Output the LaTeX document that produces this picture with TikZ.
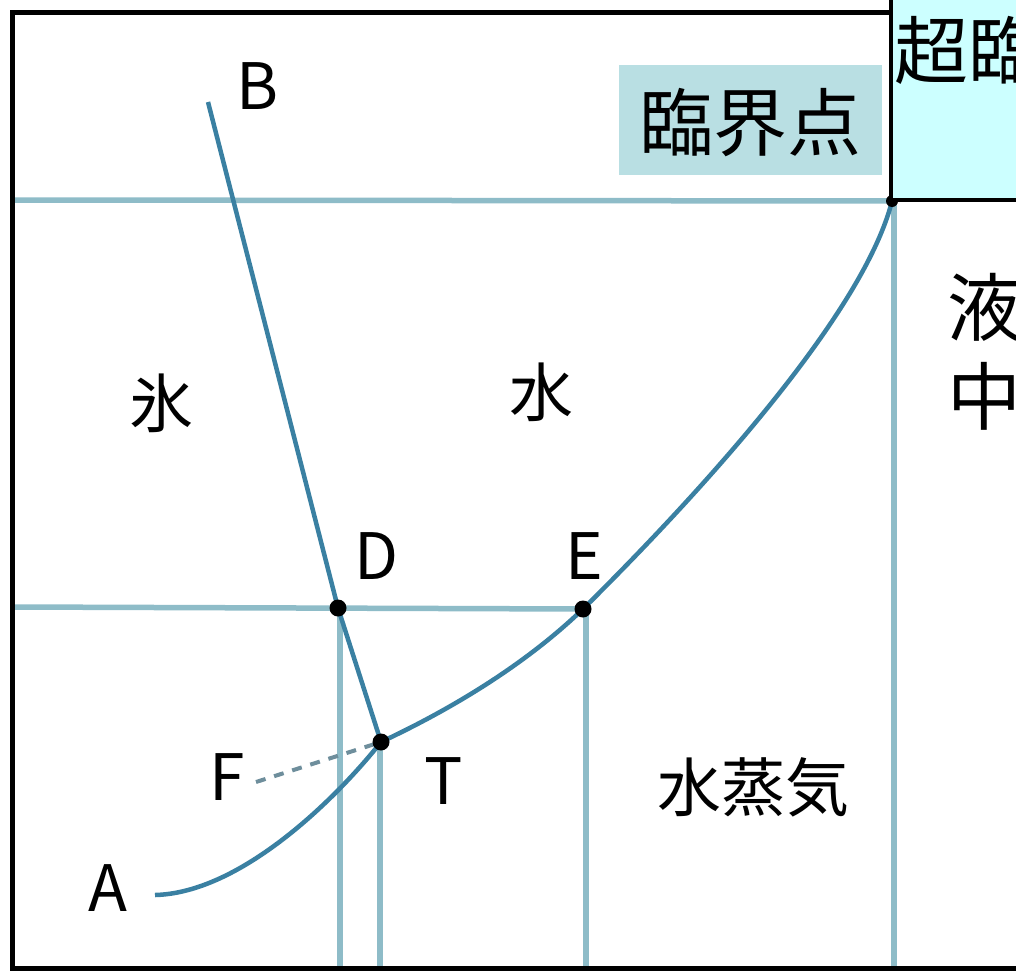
\documentclass[tikz,border=0pt]{standalone}
\usepackage{fontspec}
\setmainfont{Noto Sans CJK JP}
\definecolor{curvecol}{RGB}{58,128,162}
\definecolor{gridcol}{RGB}{142,188,200}
\definecolor{dashcol}{RGB}{110,142,156}
\definecolor{labelbox}{RGB}{185,223,227}
\definecolor{superbox}{RGB}{204,255,255}
\tikzset{
  gridline/.style={draw=gridcol,line width=5.5pt},
  phase/.style={draw=curvecol,line width=4.5pt},
  pt/.style={circle,fill=black,inner sep=0pt,minimum size=17pt},
  lbl/.style={inner sep=0pt,font=\fontsize{64}{70}\selectfont},
  big/.style={inner sep=0pt,font=\fontsize{74}{80}\selectfont},
}
\begin{document}
\begin{tikzpicture}[x=1pt,y=-1pt]
\useasboundingbox (0,0) rectangle (1016,971);
\clip (0,0) rectangle (1016,971);
\fill[white] (0,0) rectangle (1016,971);
% key points
\coordinate (Bend) at (208,102);
\coordinate (Aend) at (155,895);
\coordinate (Dp) at (338,608);
\coordinate (Ep) at (583,609);
\coordinate (Tp) at (381,742);
\coordinate (Cp) at (892,201);
\coordinate (Fend) at (256,782);
\coordinate (L1) at (14,200);
\coordinate (L2) at (14,607);
\coordinate (DB) at (340,971);
\coordinate (TB) at (380,971);
\coordinate (EB) at (586,971);
\coordinate (CB) at (894,971);
% grid lines
\draw[gridline] (L1) -- (Cp);
\draw[gridline] (L2) -- (Ep);
\draw[gridline] (340,608) -- (DB);
\draw[gridline] (380,742) -- (TB);
\draw[gridline] (586,609) -- (EB);
\draw[gridline] (894,201) -- (CB);
% frame
\draw[line width=5pt,black] (1100,13) -- (12,13) -- (12,968) -- (1100,968);
% phase boundaries
\draw[phase] (Bend) -- (Dp) -- (Tp);
\draw[phase] (Aend) .. controls (240,893) and (335,800) .. (Tp);
\draw[phase] (Tp) .. controls (460,705) and (530,660) .. (Ep)
  .. controls (683,510) and (862,320) .. (Cp);
\draw[draw=dashcol,line width=4pt,dash pattern=on 10pt off 9pt] (Fend) -- (Tp);
% points
\node[pt] (D) at (Dp) {};
\node[pt] (E) at (Ep) {};
\node[pt] (T) at (Tp) {};
\node[pt,minimum size=12pt] (C) at (Cp) {};
% labels
\node[lbl] (lB) at (258,86) {B};
\node[lbl] (lD) at (377,556) {D};
\node[lbl] (lE) at (584,556) {E};
\node[lbl] (lT) at (444,781) {T};
\node[lbl] (lF) at (227,777) {F};
\node[lbl] (lA) at (108,888) {A};
\node[lbl] (ice) at (161,403) {氷};
\node[lbl] (water) at (541,392) {水};
\node[lbl] (vapor) at (753,787) {水蒸気};
% critical point label
\node[fill=labelbox,minimum width=263pt,minimum height=110pt,inner sep=0pt] (cbox) at (750.5,120) {};
\node[big] (crit) at (750,123) {臨界点};
% supercritical box
\draw[fill=superbox,draw=black,line width=4pt] (891,-10) rectangle (1100,200);
\node[big,anchor=west] (super) at (894,50) {超臨};
% right side text
\node[big,anchor=west] (liq) at (947,307) {液};
\node[big,anchor=west] (mid) at (947,396) {中};
\end{tikzpicture}
\end{document}
